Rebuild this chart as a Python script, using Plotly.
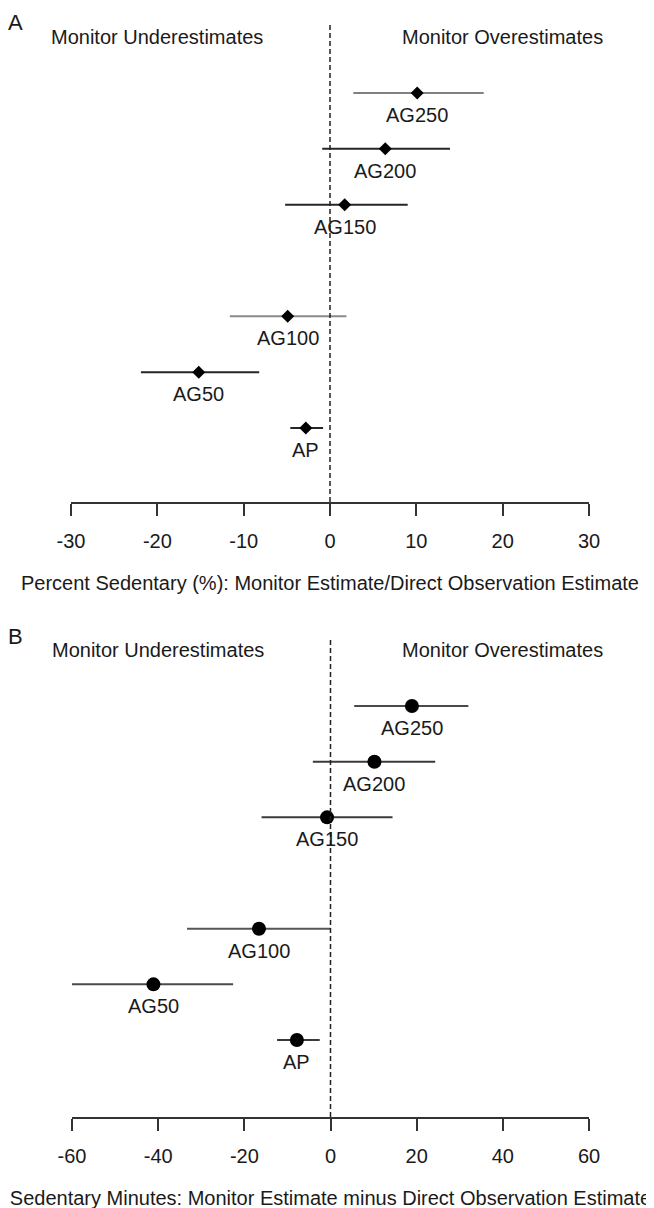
import plotly.graph_objects as go

# ---- data ----
devices = ["AG250", "AG200", "AG150", "AG100", "AG50", "AP"]
rows = [7, 6, 5, 3, 2, 1]

pct_est = [10.1, 6.4, 1.7, -4.9, -15.2, -2.8]
pct_lo = [2.7, -0.9, -5.2, -11.6, -21.9, -4.6]
pct_hi = [17.8, 13.9, 9.0, 1.9, -8.2, -0.8]

min_est = [18.9, 10.2, -0.8, -16.6, -41.1, -7.8]
min_lo = [5.5, -4.1, -16.0, -33.3, -60.0, -12.4]
min_hi = [32.0, 24.3, 14.4, 0.0, -22.6, -2.5]

pct_ticks = [-30, -20, -10, 0, 10, 20, 30]
pct_ticklabels = ["-30", "-20", "-10", "0", "10", "20", "30"]
min_ticks = [-60, -40, -20, 0, 20, 40, 60]
min_ticklabels = ["-60", "-40", "-20", "0", "20", "40", "60"]

pct_title = "Percent Sedentary (%): Monitor Estimate/Direct Observation Estimate"
min_title = "Sedentary Minutes: Monitor Estimate minus Direct Observation Estimate"
under_text = "Monitor Underestimates"
over_text = "Monitor Overestimates"

# ---- styling ----
W, H = 654, 1208
OFF = 8  # page body margin
FONT = "Liberation Sans, Arial, Helvetica, sans-serif"
TXT = "#1a1a1a"
pct_colors = ["#808080", "#262626", "#262626", "#8a8a8a", "#262626", "#262626"]
min_colors = ["#4a4a4a", "#3a3a3a", "#3a3a3a", "#555555", "#4a4a4a", "#3a3a3a"]


def px_x(p):
    return (p - OFF) / W


def px_y(p):
    return 1 - (p - OFF) / H


fig = go.Figure()

panels = [
    dict(xa="x", ya="y", est=pct_est, lo=pct_lo, hi=pct_hi, colors=pct_colors,
         symbol="diamond", msize=10, txt_x=20),
    dict(xa="x2", ya="y2", est=min_est, lo=min_lo, hi=min_hi, colors=min_colors,
         symbol="circle", msize=14, txt_x=40),
]

annotations = []
shapes = []
for p in panels:
    for i, d in enumerate(devices):
        fig.add_trace(go.Scatter(
            x=[p["lo"][i], p["hi"][i]], y=[rows[i], rows[i]],
            mode="lines", line=dict(color=p["colors"][i], width=2),
            xaxis=p["xa"], yaxis=p["ya"], showlegend=False, hoverinfo="skip",
            cliponaxis=False,
        ))
    fig.add_trace(go.Scatter(
        x=p["est"], y=rows, mode="markers",
        marker=dict(symbol=p["symbol"], size=p["msize"], color="black"),
        xaxis=p["xa"], yaxis=p["ya"], showlegend=False, cliponaxis=False,
    ))
    for i, d in enumerate(devices):
        annotations.append(dict(
            x=p["est"][i], y=rows[i], xref=p["xa"], yref=p["ya"], text=d,
            showarrow=False, yshift=-22, xanchor="center", yanchor="middle",
            font=dict(size=20, color=TXT, family=FONT),
        ))
    annotations.append(dict(x=-p["txt_x"], y=8, xref=p["xa"], yref=p["ya"], text=under_text,
                            showarrow=False, xanchor="center", yanchor="middle",
                            font=dict(size=20, color=TXT, family=FONT)))
    annotations.append(dict(x=p["txt_x"], y=8, xref=p["xa"], yref=p["ya"], text=over_text,
                            showarrow=False, xanchor="center", yanchor="middle",
                            font=dict(size=20, color=TXT, family=FONT)))
    shapes.append(dict(type="line", xref=p["xa"], yref=p["ya"] + " domain", x0=0, x1=0, y0=0, y1=1,
                       line=dict(color="#222222", width=1.5, dash="5px,3px")))

annotations.append(dict(x=px_x(15), y=px_y(23), xref="paper", yref="paper", text="A",
                        showarrow=False, xanchor="center", yanchor="middle",
                        font=dict(size=22, color=TXT, family=FONT)))
annotations.append(dict(x=px_x(15), y=px_y(636), xref="paper", yref="paper", text="B",
                        showarrow=False, xanchor="center", yanchor="middle",
                        font=dict(size=22, color=TXT, family=FONT)))

axis_common = dict(showline=True, linecolor="#333333", linewidth=1.5, ticks="outside",
                   ticklen=12, tickwidth=1.5, tickcolor="#333333", showgrid=False,
                   zeroline=False, tickfont=dict(size=20, color=TXT, family=FONT),
                   ticklabelstandoff=8, fixedrange=True, automargin=False)

fig.update_layout(
    width=W, height=H, margin=dict(l=0, r=0, t=0, b=0, autoexpand=False),
    paper_bgcolor="white", plot_bgcolor="white",
    font=dict(family=FONT, color=TXT),
    xaxis=dict(domain=[px_x(71), px_x(589)], range=[-30, 30], anchor="y",
               tickvals=pct_ticks, ticktext=pct_ticklabels,
               title=dict(text=pct_title, font=dict(size=20, color=TXT, family=FONT), standoff=25),
               **axis_common),
    yaxis=dict(domain=[px_y(502), px_y(23)], range=[-0.325, 8.254], visible=False,
               fixedrange=True, automargin=False),
    xaxis2=dict(domain=[px_x(72), px_x(589)], range=[-60, 60], anchor="y2",
                tickvals=min_ticks, ticktext=min_ticklabels,
                title=dict(text=min_title, font=dict(size=20, color=TXT, family=FONT), standoff=25),
                **axis_common),
    yaxis2=dict(domain=[px_y(1117), px_y(637)], range=[-0.383, 8.24], visible=False,
                fixedrange=True, automargin=False),
    annotations=annotations,
    shapes=shapes,
)

fig.write_html("out.html")
